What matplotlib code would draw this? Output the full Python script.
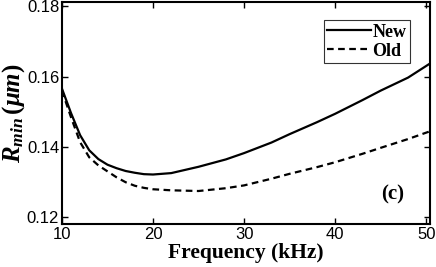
import matplotlib
matplotlib.use("Agg")
import matplotlib.pyplot as plt

# values
freq = [10, 11, 12, 13, 14, 15, 16, 17, 18, 19, 20, 22, 25, 28, 30, 33, 35, 38, 40, 43, 45, 48, 50.4]
r_new = [0.1566, 0.1496, 0.1433, 0.1390, 0.1365, 0.1349, 0.1339, 0.1331, 0.1326, 0.1322, 0.1321, 0.1325, 0.1343,
         0.1364, 0.1382, 0.1412, 0.1436, 0.1470, 0.1494, 0.1533, 0.1560, 0.1597, 0.1637]
r_old = [0.1560, 0.1484, 0.1413, 0.1370, 0.1347, 0.1330, 0.1313, 0.1299, 0.1289, 0.1283, 0.1279, 0.1276, 0.1274,
         0.1282, 0.1290, 0.1309, 0.1323, 0.1342, 0.1356, 0.1380, 0.1397, 0.1422, 0.1444]
xticks = [10, 20, 30, 40, 50]
yticks = [0.12, 0.14, 0.16, 0.18]

plt.rcParams['mathtext.fontset'] = 'custom'
plt.rcParams['mathtext.rm'] = 'Liberation Serif:bold'
plt.rcParams['mathtext.it'] = 'Liberation Serif:bold:italic'
plt.rcParams['mathtext.bf'] = 'Liberation Serif:bold'

fig = plt.figure(figsize=(4.36, 2.67), dpi=100)
ax = fig.add_axes([0.142, 0.161, 0.844, 0.831])

ax.plot(freq, r_new, color='black', lw=1.6, label='New')
ax.plot(freq, r_old, color='black', lw=1.6, ls=(0, (3, 2)), label='Old')

ax.set_xlim(10, 50.4)
ax.set_ylim(0.118, 0.1812)
ax.set_xticks(xticks)
ax.set_yticks(yticks)
tick_font = ['Liberation Sans Narrow', 'Liberation Sans']
ax.set_xticklabels([str(t) for t in xticks], family=tick_font, fontsize=12)
ax.set_yticklabels(['%.2f' % t for t in yticks], family=tick_font, fontsize=12)
ax.tick_params(direction='in', length=4, width=1, top=True, right=True, pad=2)
for s in ax.spines.values():
    s.set_linewidth(1.5)

ax.set_xlabel('Frequency (kHz)', family='Liberation Serif', fontweight='bold', fontsize=15.5, labelpad=1)
ax.set_ylabel(r'$R_{min}\,(\mu m)$', fontsize=18, labelpad=0)

ax.text(46.3, 0.1265, '(c)', family='Liberation Serif', fontweight='bold', fontsize=15,
        ha='center', va='center')

leg = ax.legend(loc='upper right', bbox_to_anchor=(0.946, 0.919), frameon=True, fancybox=False,
                edgecolor='black', handlelength=2.4, handletextpad=0.1, borderpad=0.2,
                labelspacing=0.1, borderaxespad=0,
                prop={'family': 'Liberation Serif', 'weight': 'bold', 'size': 13})
leg.get_frame().set_linewidth(0.8)

fig.savefig('out.png', dpi=100)
